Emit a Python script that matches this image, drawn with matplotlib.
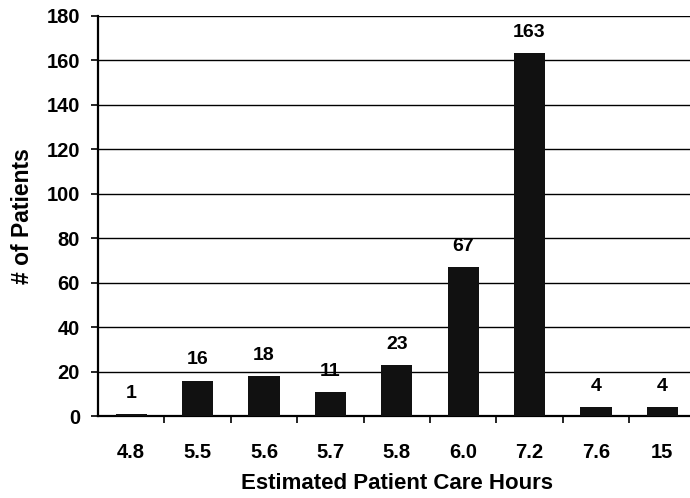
import numpy as np
import matplotlib.pyplot as plt
from matplotlib.ticker import FixedLocator

plt.rcParams['font.family'] = ['Liberation Sans', 'DejaVu Sans']
plt.rcParams['font.weight'] = 'bold'

# care hours categories and patient counts
hours = ['4.8', '5.5', '5.6', '5.7', '5.8', '6.0', '7.2', '7.6', '15']
patients = [1, 16, 18, 11, 23, 67, 163, 4, 4]

fig = plt.figure(figsize=(6.9, 4.98), dpi=100)
ax = fig.add_axes([0.142, 0.164, 0.866, 0.8046])

x = np.arange(len(hours))
ax.bar(x, patients, width=0.47, color='#111111', zorder=3)

for xi, v in zip(x, patients):
    ax.text(xi, v + 5.5, str(v), ha='center', va='bottom',
            fontsize=14, fontweight='bold', zorder=4)

ax.set_xlim(-0.5, len(hours) - 0.5)
ax.set_ylim(0, 180)
ax.set_yticks(np.arange(0, 181, 20))
ax.yaxis.grid(True, color='black', linewidth=1.0, zorder=1)

ax.set_xticks(x)
ax.set_xticklabels(hours)
ax.xaxis.set_minor_locator(FixedLocator(np.arange(0.5, len(hours) - 0.5, 1)))
ax.tick_params(axis='x', which='major', length=0, pad=19, labelsize=14.5)
ax.tick_params(axis='x', which='minor', length=5, width=1.2, direction='out')
ax.tick_params(axis='y', length=5, width=1.2, direction='out', labelsize=14.5, pad=8)

for side in ['top', 'right']:
    ax.spines[side].set_visible(False)
ax.spines['left'].set_linewidth(1.6)
ax.spines['bottom'].set_linewidth(1.6)

ax.set_xlabel('Estimated Patient Care Hours', fontsize=16, fontweight='bold', labelpad=8)
ax.set_ylabel('# of Patients', fontsize=16.5, fontweight='bold', labelpad=9)

fig.savefig('out.png', dpi=100)
